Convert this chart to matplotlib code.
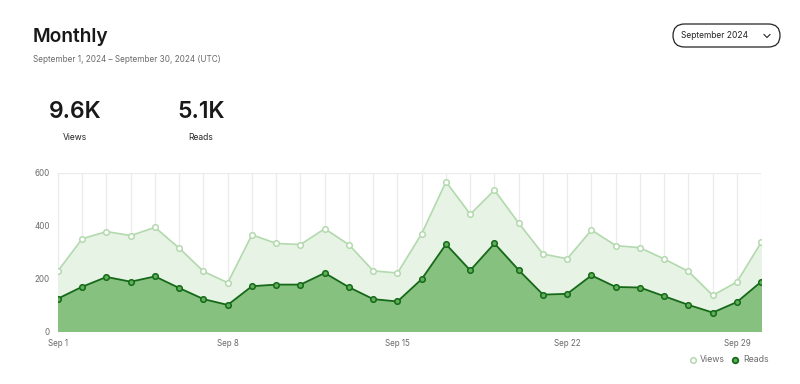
import numpy as np
import matplotlib.pyplot as plt
from matplotlib.patches import FancyBboxPatch

plt.rcParams['font.family'] = ['Inter', 'DejaVu Sans']

days = np.arange(1, 31)
views = [228, 350, 377, 362, 393, 314, 226, 183, 365, 332, 328, 388, 327, 228, 220,
         369, 566, 443, 534, 409, 292, 274, 383, 324, 316, 273, 226, 135, 186, 336]
reads = [123, 168, 205, 187, 207, 163, 121, 99, 170, 176, 176, 220, 166, 121, 112,
         197, 329, 230, 332, 231, 138, 141, 211, 167, 165, 132, 99, 70, 110, 187]
tick_days = [1, 8, 15, 22, 29]
tick_labels = ['Sep 1', 'Sep 8', 'Sep 15', 'Sep 22', 'Sep 29']
y_ticks = [0, 200, 400, 600]

views_line = '#b3d9ae'
views_fill = '#e7f3e5'
reads_line = '#17691a'
reads_fill = '#86c17f'
reads_marker = '#5fae58'

fig = plt.figure(figsize=(8, 3.84), dpi=100)
ax = fig.add_axes([0.0725, 0.138, 0.879, 0.412])

for d in days:
    ax.axvline(d, color='#ebebeb', lw=0.9, zorder=0)
ax.axhline(600, color='#ebebeb', lw=0.9, zorder=0)

ax.fill_between(days, views, color=views_fill, zorder=1)
ax.plot(days, views, color=views_line, lw=1.2, marker='o', ms=4,
        mfc='white', mec=views_line, mew=1.1, zorder=2)
ax.fill_between(days, reads, color=reads_fill, zorder=3)
ax.plot(days, reads, color=reads_line, lw=1.3, marker='o', ms=4,
        mfc=reads_marker, mec=reads_line, mew=1.1, zorder=4)

ax.set_xlim(1, 30)
ax.set_ylim(0, 600)
ax.set_xticks(tick_days)
ax.set_xticklabels(tick_labels)
ax.set_yticks(y_ticks)
ax.tick_params(length=0, labelsize=5.8, labelcolor='#6b6b6b', pad=6)
for s in ['top', 'right']:
    ax.spines[s].set_visible(False)
ax.spines['left'].set_color('#ebebeb')
ax.spines['bottom'].set_color('#ebebeb')
ax.spines['left'].set_zorder(0)

# overlay in pixel coordinates for header, dropdown and legend
ov = fig.add_axes([0, 0, 1, 1], facecolor='none')
ov.set_xlim(0, 800)
ov.set_ylim(384, 0)
ov.axis('off')

ov.text(33, 37, 'Monthly', fontsize=13.8, fontweight='semibold',
        color='#191919', va='center', ha='left')
ov.text(33, 59, 'September 1, 2024 \u2013 September 30, 2024 (UTC)',
        fontsize=5.9, color='#6b6b6b', va='center', ha='left')

ov.text(75, 112, '9.6K', fontsize=16.5, fontweight='semibold',
        color='#191919', va='center', ha='center')
ov.text(75, 137, 'Views', fontsize=6.1, color='#242424', va='center', ha='center')
ov.text(201, 112, '5.1K', fontsize=16.5, fontweight='semibold',
        color='#191919', va='center', ha='center')
ov.text(201, 137, 'Reads', fontsize=6.1, color='#242424', va='center', ha='center')

# dropdown
ov.add_patch(FancyBboxPatch((673, 24), 107, 23,
                            boxstyle='round,pad=0,rounding_size=11.5',
                            fc='white', ec='#242424', lw=0.9))
ov.text(715, 36, 'September 2024', fontsize=6.1, color='#242424',
        va='center', ha='center')
ov.plot([764, 767, 770], [34.5, 37.5, 34.5], color='#242424', lw=0.8)

# legend
ov.plot([693], [360], marker='o', ms=4, mfc='white', mec=views_line, mew=1.1, lw=0)
ov.text(700, 360, 'Views', fontsize=6.3, color='#6b6b6b', va='center', ha='left')
ov.plot([735], [360], marker='o', ms=4, mfc=reads_marker, mec=reads_line, mew=1.3, lw=0)
ov.text(743, 360, 'Reads', fontsize=6.3, color='#6b6b6b', va='center', ha='left')

fig.savefig('out.png', dpi=100)
